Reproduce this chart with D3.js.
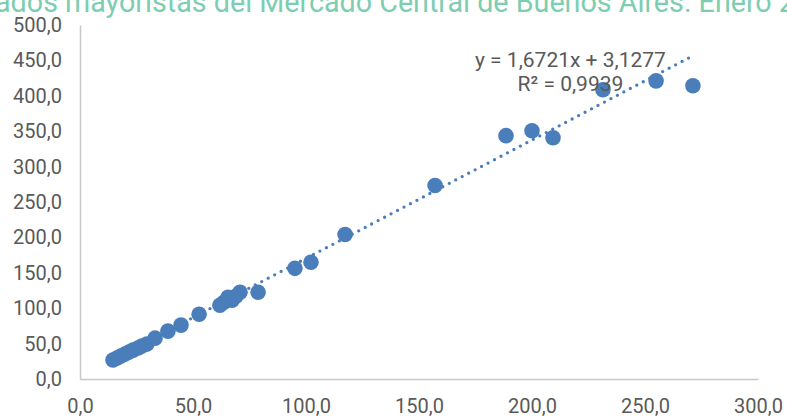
<!DOCTYPE html>
<html>
<head>
<meta charset="utf-8">
<script src="https://cdn.jsdelivr.net/npm/d3@7"></script>
<style>
    body { margin: 0; background: #fff; overflow: hidden; }
    text { font-family: Roboto, "Noto Sans", sans-serif; }
</style>
</head>
<body>
<div id="scatter"></div>
<script>
// Data
var titleText = "ados mayoristas del Mercado Central de Buenos Aires. Enero 2";
var xValues = [14.6, 16.4, 18.1, 19.9, 21.7, 23.5, 25.7, 27.4, 29.6, 33.2,
    38.9, 44.7, 52.7, 61.9, 63.7, 65.5, 67.3, 69.0, 70.8, 78.8,
    95.1, 102.2, 117.3, 157.1, 188.5, 200.0, 209.3, 231.4, 254.9, 271.2];
var yValues = [26.8, 29.6, 32.4, 35.2, 38.0, 40.8, 43.7, 46.5, 49.3, 57.7,
    67.6, 76.1, 91.5, 104.2, 108.5, 115.5, 111.3, 116.9, 122.5, 122.5,
    156.3, 164.8, 204.2, 273.2, 343.7, 350.7, 340.8, 408.5, 421.1, 414.1];
var xTicks = [0, 50, 100, 150, 200, 250, 300];
var yTicks = [0, 50, 100, 150, 200, 250, 300, 350, 400, 450, 500];
var slope = 1.6721;
var intercept = 3.1277;
var equationLines = ["y = 1,6721x + 3,1277", "R² = 0,9939"];

// Define SVG area dimensions
var svgWidth = 787;
var svgHeight = 417;

var chartMargin = {
    top: 25,
    right: 29,
    bottom: 38,
    left: 80
};

var chartWidth = svgWidth - chartMargin.left - chartMargin.right;
var chartHeight = svgHeight - chartMargin.top - chartMargin.bottom;

var svg = d3
    .select("#scatter")
    .append("svg")
    .attr("height", svgHeight)
    .attr("width", svgWidth);

// title, cut off at the top like the original
svg.append("text")
    .attr("x", -5)
    .attr("y", 12)
    .attr("font-size", "28.7px")
    .attr("fill", "#7dcdb0")
    .text(titleText);

var chartGroup = svg.append("g")
    .attr("transform", `translate(${chartMargin.left}, ${chartMargin.top})`);

var xLinearScale = d3.scaleLinear()
    .domain([0, 300])
    .range([0, chartWidth]);

var yLinearScale = d3.scaleLinear()
    .domain([0, 500])
    .range([chartHeight, 0]);

// decimal comma
var esLocale = d3.formatLocale({ decimal: ",", thousands: ".", grouping: [3], currency: ["$", ""] });
var fmt = esLocale.format(".1f");

var bottomAxis = d3.axisBottom(xLinearScale)
    .tickValues(xTicks)
    .tickFormat(fmt)
    .tickSize(0)
    .tickPadding(20);
var leftAxis = d3.axisLeft(yLinearScale)
    .tickValues(yTicks)
    .tickFormat(fmt)
    .tickSize(0)
    .tickPadding(18);

var xAxis = chartGroup.append("g")
    .attr("transform", `translate(0, ${chartHeight})`)
    .call(bottomAxis);

var yAxis = chartGroup.append("g")
    .call(leftAxis);

[xAxis, yAxis].forEach(function (ax) {
    ax.select(".domain")
        .attr("stroke", "#c8c8c8")
        .attr("stroke-width", 1.5);
    ax.selectAll("text")
        .attr("font-size", "20px")
        .attr("font-family", "Roboto, sans-serif")
        .attr("fill", "#595959");
});

// linear trendline over the data range
var xMin = d3.min(xValues);
var xMax = d3.max(xValues);
chartGroup.append("line")
    .attr("x1", xLinearScale(xMin))
    .attr("y1", yLinearScale(slope * xMin + intercept))
    .attr("x2", xLinearScale(xMax))
    .attr("y2", yLinearScale(slope * xMax + intercept))
    .attr("stroke", "#4a7ebb")
    .attr("stroke-width", 3.3)
    .attr("stroke-linecap", "round")
    .attr("stroke-dasharray", "0 7.3");

// Create circles
var points = xValues.map(function (x, i) { return { x: x, y: yValues[i] }; });
chartGroup.selectAll("circle")
    .data(points)
    .enter()
    .append("circle")
    .attr("cx", d => xLinearScale(d.x))
    .attr("cy", d => yLinearScale(d.y))
    .attr("r", 7.8)
    .attr("fill", "#4a7ebb");

// equation label
var eqGroup = chartGroup.append("g")
    .attr("transform", `translate(${xLinearScale(217)}, ${yLinearScale(440)})`);
eqGroup.selectAll("text")
    .data(equationLines)
    .enter()
    .append("text")
    .attr("x", 0)
    .attr("y", (d, i) => i * 24)
    .attr("text-anchor", "middle")
    .attr("font-size", "21px")
    .attr("fill", "#595959")
    .text(d => d);
</script>
</body>
</html>
